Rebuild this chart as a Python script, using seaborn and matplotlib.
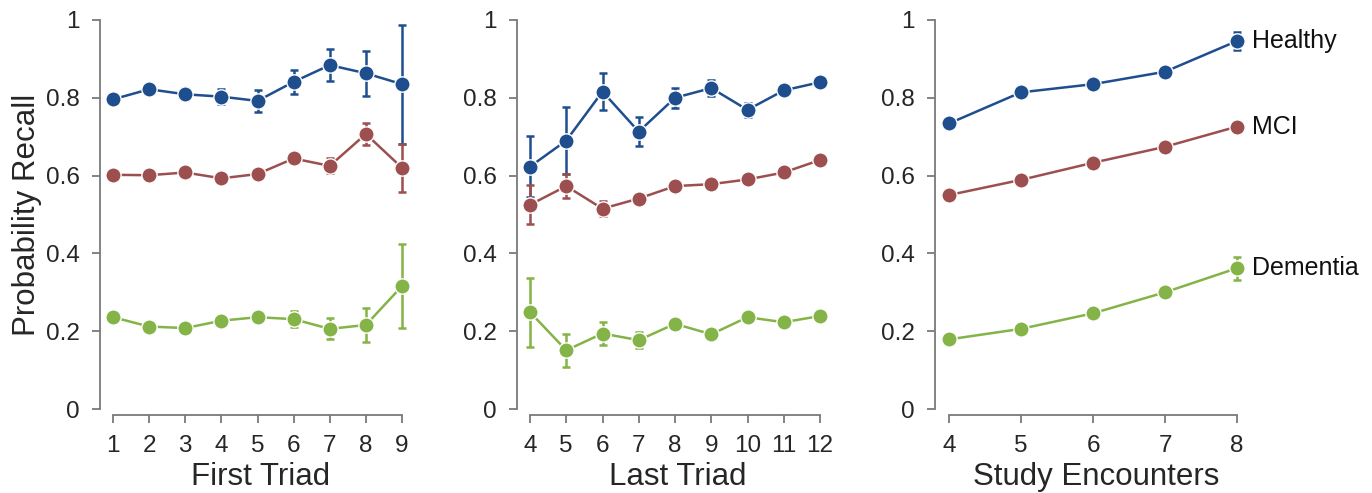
import numpy as np
import pandas as pd
import matplotlib
matplotlib.use("Agg")
import matplotlib.pyplot as plt
import seaborn as sns

# values
groups = ["Healthy", "MCI", "Dementia"]
colors = ["#1f4e8e", "#9c4f4e", "#84b347"]

first_triad = [1, 2, 3, 4, 5, 6, 7, 8, 9]
first_healthy = [0.796, 0.822, 0.809, 0.803, 0.792, 0.841, 0.884, 0.863, 0.835]
first_healthy_err = [0.008, 0.012, 0.015, 0.020, 0.028, 0.031, 0.041, 0.058, 0.153]
first_mci = [0.602, 0.601, 0.608, 0.593, 0.604, 0.644, 0.625, 0.707, 0.620]
first_mci_err = [0.006, 0.006, 0.007, 0.007, 0.008, 0.012, 0.019, 0.028, 0.062]
first_dementia = [0.236, 0.212, 0.208, 0.227, 0.236, 0.231, 0.206, 0.216, 0.316]
first_dementia_err = [0.007, 0.007, 0.008, 0.010, 0.015, 0.021, 0.027, 0.044, 0.107]

last_triad = [4, 5, 6, 7, 8, 9, 10, 11, 12]
last_healthy = [0.623, 0.690, 0.816, 0.713, 0.800, 0.825, 0.769, 0.819, 0.840]
last_healthy_err = [0.079, 0.087, 0.047, 0.037, 0.026, 0.020, 0.018, 0.010, 0.007]
last_mci = [0.525, 0.573, 0.515, 0.541, 0.573, 0.578, 0.590, 0.608, 0.640]
last_mci_err = [0.050, 0.030, 0.020, 0.012, 0.007, 0.006, 0.006, 0.006, 0.006]
last_dementia = [0.249, 0.151, 0.194, 0.177, 0.219, 0.192, 0.236, 0.223, 0.239]
last_dementia_err = [0.089, 0.042, 0.029, 0.020, 0.015, 0.008, 0.007, 0.007, 0.007]

encounters = [4, 5, 6, 7, 8]
enc_healthy = [0.734, 0.814, 0.835, 0.867, 0.946]
enc_healthy_err = [0.012, 0.008, 0.010, 0.013, 0.023]
enc_mci = [0.550, 0.589, 0.633, 0.674, 0.726]
enc_mci_err = [0.006, 0.006, 0.006, 0.007, 0.010]
enc_dementia = [0.179, 0.206, 0.246, 0.300, 0.362]
enc_dementia_err = [0.006, 0.007, 0.008, 0.012, 0.030]

yticks = [0, 0.2, 0.4, 0.6, 0.8, 1.0]
ytick_labels = ["0", "0.2", "0.4", "0.6", "0.8", "1"]


def make_df(x, series, errs):
    rows = []
    for g, vals, ee in zip(groups, series, errs):
        for xi, v, e in zip(x, vals, ee):
            rows.append({"x": xi, "recall": v, "err": e, "group": g})
    return pd.DataFrame(rows)


panels = [
    ("First Triad", first_triad,
     make_df(first_triad, [first_healthy, first_mci, first_dementia],
             [first_healthy_err, first_mci_err, first_dementia_err]),
     (105.5, 415, 113, 402)),
    ("Last Triad", last_triad,
     make_df(last_triad, [last_healthy, last_mci, last_dementia],
             [last_healthy_err, last_mci_err, last_dementia_err]),
     (522.5, 833, 530, 820)),
    ("Study Encounters", encounters,
     make_df(encounters, [enc_healthy, enc_mci, enc_dementia],
             [enc_healthy_err, enc_mci_err, enc_dementia_err]),
     (940.5, 1251, 949, 1237)),
]

sns.set_theme(style="ticks")
plt.rcParams['font.family'] = ['Liberation Sans', 'DejaVu Sans']
text_col = "#262626"
spine_col = "#7a7a7a"

W, H = 1372, 493
fig = plt.figure(figsize=(W / 100, H / 100), dpi=100)

for i, (label, xs, df, (l_px, r_px, t0_px, t1_px)) in enumerate(panels):
    ax = fig.add_axes([l_px / W, 84 / H, (r_px - l_px) / W, 389 / H])

    for g, c in zip(groups, colors):
        sub = df[df["group"] == g]
        ax.errorbar(sub["x"], sub["recall"], yerr=sub["err"], fmt="none",
                    ecolor=c, elinewidth=1.8, capsize=2.9, capthick=1.8, zorder=2)

    sns.lineplot(data=df, x="x", y="recall", hue="group", hue_order=groups,
                 palette=colors, marker="o", markersize=11, linewidth=1.8,
                 markeredgecolor="white", markeredgewidth=1.0,
                 errorbar=None, legend=False, ax=ax, zorder=3)

    # x limits so the first and last ticks land where they sit in the reference
    unit = (t1_px - t0_px) / (xs[-1] - xs[0])
    ax.set_xlim(xs[0] - (t0_px - l_px) / unit, xs[-1] + (r_px - t1_px) / unit)
    ax.set_ylim(0, 1)
    ax.set_xticks(xs)
    ax.set_yticks(yticks, ytick_labels)

    sns.despine(ax=ax, offset=4, trim=True)
    for s in ["left", "bottom"]:
        ax.spines[s].set_color(spine_col)
        ax.spines[s].set_linewidth(1.3)
    ax.tick_params(axis="both", labelsize=17.5, colors=spine_col, labelcolor=text_col,
                   length=6, width=1.3, pad=8.5)

    ax.set_xlabel(label, fontsize=22.5, color=text_col, labelpad=3.5)
    if i == 0:
        ax.set_ylabel("Probability Recall", fontsize=22.5, color=text_col, labelpad=3)
    else:
        ax.set_ylabel("")

    if i == 2:
        for g in groups:
            sub = df[df["group"] == g]
            ax.annotate(g, xy=(sub["x"].iloc[-1], sub["recall"].iloc[-1]),
                        xytext=(11, 0), textcoords="offset points",
                        va="center", ha="left", fontsize=18, color="#111111",
                        annotation_clip=False)

fig.savefig("out.png", dpi=100)
